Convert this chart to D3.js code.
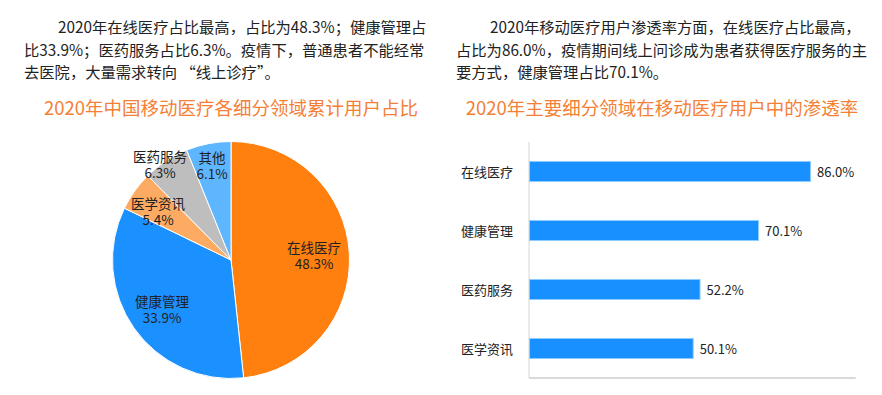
<!DOCTYPE html>
<html><head><meta charset="utf-8">
<script src="https://cdn.jsdelivr.net/npm/d3@7/dist/d3.min.js"></script>
<style>
html,body{margin:0;padding:0;background:#fff;}
svg{display:block;font-family:"Noto Sans CJK SC","Microsoft YaHei",sans-serif;}
</style></head>
<body>
<svg id="c" width="882" height="395"></svg>
<script>
// ---- data ----
const pieCategories = ["在线医疗", "健康管理", "医学资讯", "医药服务", "其他"];
const pieValues = [48.3, 33.9, 5.4, 6.3, 6.1];
const pieColors = ["#FF800F", "#1B90FF", "#FDAB63", "#BEBEBE", "#5EB6FF"];

const barCategories = ["在线医疗", "健康管理", "医药服务", "医学资讯"];
const barValues = [86.0, 70.1, 52.2, 50.1];

const leftText = [
  "2020年在线医疗占比最高，占比为48.3%；健康管理占",
  "比33.9%；医药服务占比6.3%。疫情下，普通患者不能经常",
  "去医院，大量需求转向 “线上诊疗”。"
];
const rightText = [
  "2020年移动医疗用户渗透率方面，在线医疗占比最高，",
  "占比为86.0%，疫情期间线上问诊成为患者获得医疗服务的主",
  "要方式，健康管理占比70.1%。"
];
const leftTitle = "2020年中国移动医疗各细分领域累计用户占比";
const rightTitle = "2020年主要细分领域在移动医疗用户中的渗透率";

const svg = d3.select("#c");

// ---- paragraphs ----
function para(lines, x0, indentX, y0) {
  const g = svg.append("g");
  lines.forEach((t, i) => {
    g.append("text")
      .attr("x", i === 0 ? indentX : x0)
      .attr("y", y0 + i * 22.5)
      .attr("font-size", 15.3)
      .attr("fill", "#222")
      .text(t);
  });
}
para(leftText, 24, 58, 33);
para(rightText, 456, 490, 33);

svg.append("text").attr("x", 231).attr("y", 115).attr("text-anchor", "middle")
  .attr("font-size", 18.5).attr("fill", "#F47F36").text(leftTitle);
svg.append("text").attr("x", 662).attr("y", 115).attr("text-anchor", "middle")
  .attr("font-size", 18.5).attr("fill", "#F47F36").text(rightTitle);

// ---- pie ----
const cx = 231, cy = 260, r = 118.5;
const pieData = pieCategories.map((c, i) => ({c, v: pieValues[i], col: pieColors[i]}));
const arcs = d3.pie().value(d => d.v).sort(null)(pieData);
const arc = d3.arc().innerRadius(0).outerRadius(r);
const pg = svg.append("g").attr("transform", `translate(${cx},${cy})`);
pg.selectAll("path").data(arcs).join("path")
  .attr("d", arc).attr("fill", d => d.data.col)
  .attr("stroke", "#fff").attr("stroke-width", 1);

// label layout offsets from pie centre (layout only)
const labelOffsets = [[83, -12], [-69, 42], [-73, -56], [-71, -103], [-19, -102]];
arcs.forEach((a, i) => {
  const [lx, ly] = labelOffsets[i];
  const t = pg.append("text").attr("text-anchor", "middle")
    .attr("font-size", 13.5).attr("fill", "#222");
  t.append("tspan").attr("x", lx).attr("y", ly + 5).text(a.data.c);
  t.append("tspan").attr("x", lx).attr("y", ly + 21).text(a.data.v.toFixed(1) + "%");
});

// ---- bar chart ----
const x = d3.scaleLinear().domain([0, 100]).range([529, 855.7]);
const y = d3.scaleBand().domain(barCategories).range([142, 378]).paddingInner(0.66).paddingOuter(0.33);

svg.append("line").attr("x1", 529).attr("x2", 529).attr("y1", 142).attr("y2", 378)
  .attr("stroke", "#D6D6D6").attr("stroke-width", 1);
svg.append("line").attr("x1", 529).attr("x2", x(100)).attr("y1", 378).attr("y2", 378)
  .attr("stroke", "#D9D9D9").attr("stroke-width", 2);

const bg = svg.append("g");
barCategories.forEach((c, i) => {
  bg.append("rect").attr("x", x(0) + 0.5).attr("y", y(c))
    .attr("width", x(barValues[i]) - x(0)).attr("height", y.bandwidth())
    .attr("fill", "#1890FF").attr("stroke", "#8ECBFF").attr("stroke-width", 1);
  bg.append("text").attr("x", 513).attr("y", y(c) + y.bandwidth() / 2 + 5)
    .attr("text-anchor", "end").attr("font-size", 13).attr("fill", "#222").text(c);
  bg.append("text").attr("x", x(barValues[i]) + 7).attr("y", y(c) + y.bandwidth() / 2 + 5)
    .attr("font-size", 13).attr("fill", "#222").text(barValues[i].toFixed(1) + "%");
});
</script>
</body></html>
